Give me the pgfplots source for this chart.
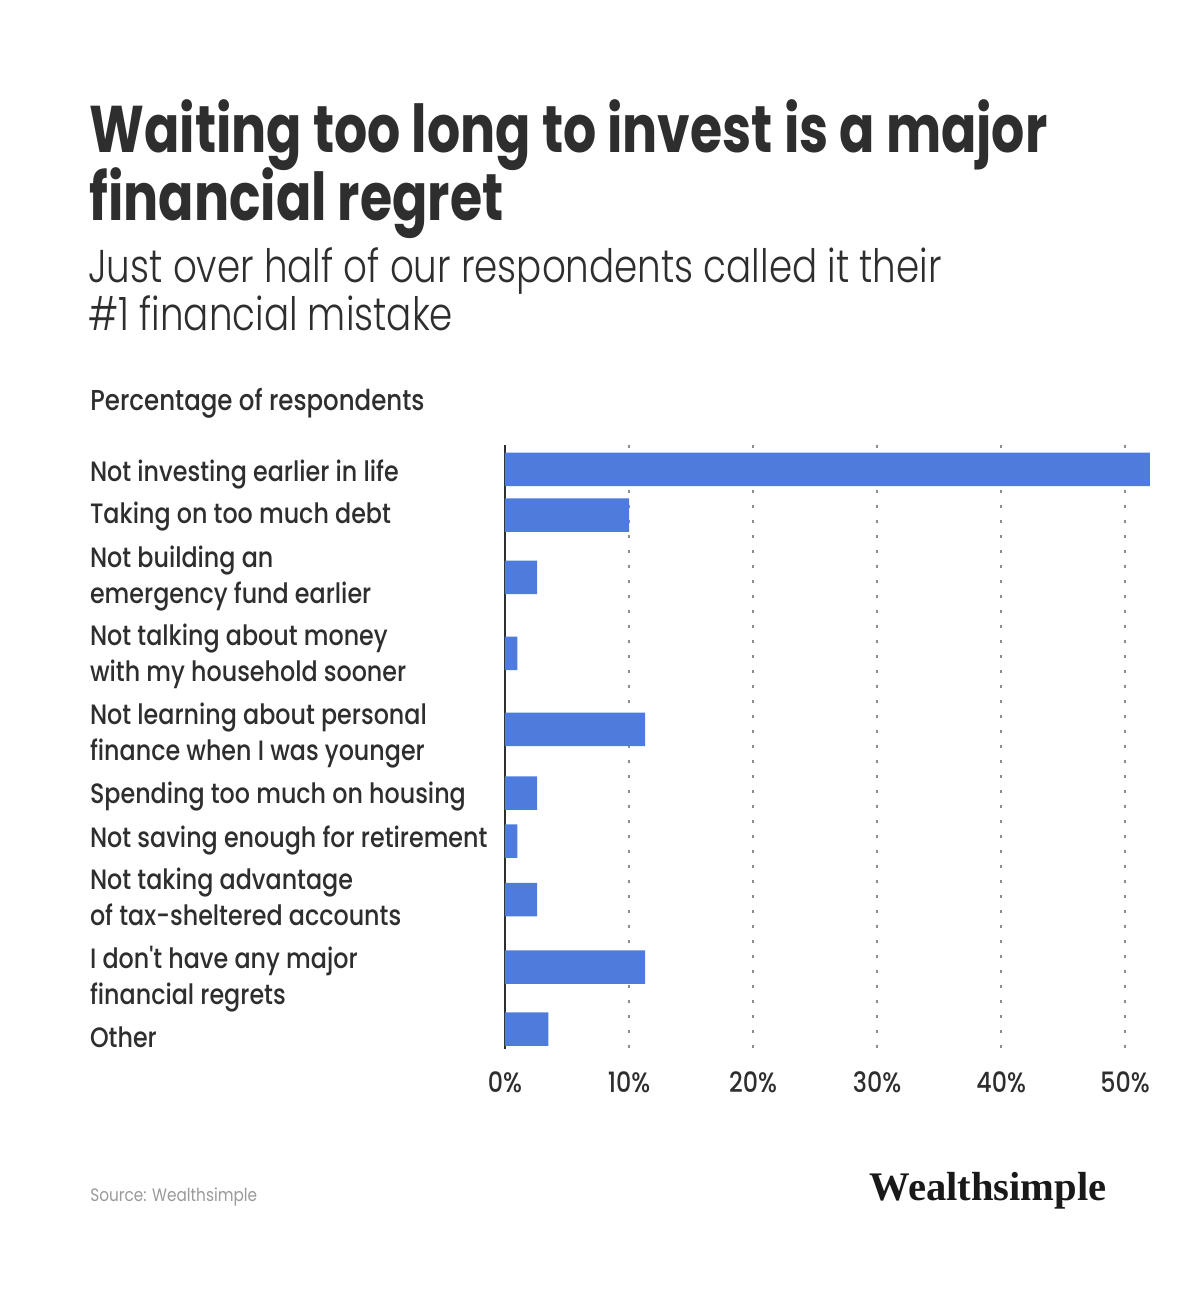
\documentclass[border=0pt]{standalone}
\usepackage{fontspec}
\setmainfont{Poppins}[FakeStretch=0.85]
\newfontfamily\titlefont{Poppins}[FakeStretch=0.79]
\newfontfamily\medfont{Poppins Medium}[FakeStretch=0.85]
\newfontfamily\lightfont{Poppins Light}[FakeStretch=0.81]
\newfontfamily\logofont{Liberation Serif}
\usepackage{pgfplots}
\pgfplotsset{compat=1.18}
\definecolor{barblue}{HTML}{4F7BDD}
\definecolor{txt}{HTML}{2E2E2E}
\definecolor{srcgray}{HTML}{9A9A9A}
\begin{document}
\begin{tikzpicture}
\begin{scope}[x=0.5pt,y=-0.5pt]
\fill[white] (0,0) rectangle (1200,1298);
\node[anchor=base west, inner sep=0, text=txt, font=\fontsize{33}{34}\titlefont\bfseries] at (89,152) {Waiting too long to invest is a major};
\node[anchor=base west, inner sep=0, text=txt, font=\fontsize{33}{34}\titlefont\bfseries] at (89,220) {financial regret};
\node[anchor=base west, inner sep=0, text=txt, font=\fontsize{23}{24}\lightfont] at (88,282) {Just over half of our respondents called it their};
\node[anchor=base west, inner sep=0, text=txt, font=\fontsize{23}{24}\lightfont] at (88,330) {\#1 financial mistake};
\node[anchor=base west, inner sep=0, text=txt, font=\fontsize{14.4}{18}\medfont] at (90,410) {Percentage of respondents};
\node[anchor=base west, inner sep=0, text=srcgray, font=\fontsize{9}{11}\selectfont] at (90,1201) {Source: Wealthsimple};
\node[anchor=base east, inner sep=0, text=black!90, font=\fontsize{20.3}{22}\logofont\bfseries] at (1107,1200) {Wealthsimple};
\end{scope}
\begin{axis}[
  at={(252.5pt,-222.5pt)}, anchor=north west,
  scale only axis, width=322.5pt, height=302pt,
  xmin=0, xmax=52, ymin=445, ymax=1049, y dir=reverse,
  axis y line*=left,
  x axis line style={draw=none},
  y axis line style={draw=txt, line width=0.8pt},
  xtick={0,10,20,30,40,50},
  xticklabel={\pgfmathprintnumber{\tick}\%},
  /pgf/number format/assume math mode=true,
  xmajorgrids,
  grid style={black!45, line width=1pt, dash pattern=on 1.5pt off 6pt},
  major tick length=0pt,
  ytick={481.7,523,603,681.7,760,803,847,925,1004,1047},
  yticklabels={
    Not investing earlier in life,
    Taking on too much debt,
    {Not building an\\emergency fund earlier},
    {Not talking about money\\with my household sooner},
    {Not learning about personal\\finance when I was younger},
    Spending too much on housing,
    Not saving enough for retirement,
    {Not taking advantage\\of tax-sheltered accounts},
    {I don't have any major\\financial regrets},
    Other},
  yticklabel style={anchor=base west, align=left, xshift=-211pt, text=txt, font=\fontsize{14}{18}\medfont},
  xticklabel style={text=txt, font=\fontsize{14}{18}\medfont, yshift=-8pt},
  clip=false,
]
\addplot[xbar, fill=barblue, draw=none, bar width=33.5] coordinates {
  (52,469.3) (10,515) (2.6,577.3) (1,653.3) (11.3,729.3)
  (2.6,793) (1,841.2) (2.6,899.7) (11.3,967) (3.5,1029.2)
};
\end{axis}
\end{tikzpicture}
\end{document}
